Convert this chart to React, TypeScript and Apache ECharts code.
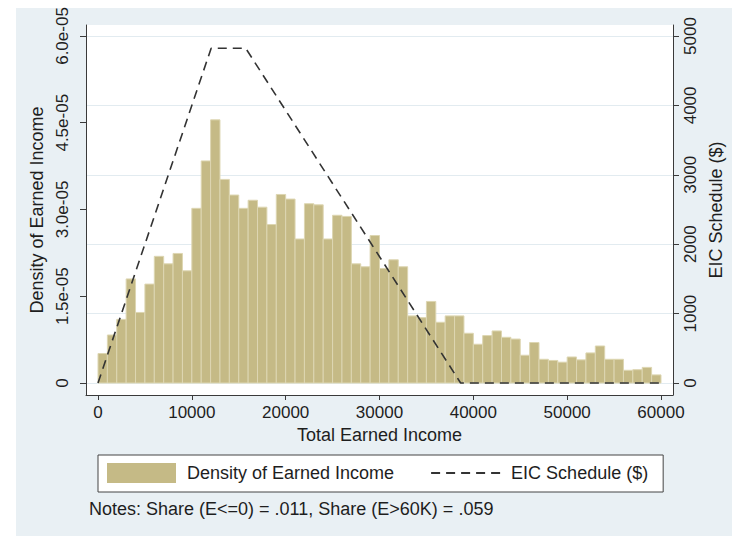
import { useEffect, useRef } from 'react';
import * as echarts from 'echarts';

// Histogram: bins of $1,000 from 0 to 60,000; density in units of 1e-5
const binWidth = 1000;
const densityE5 = [
  0.51, 0.83, 1.10, 1.80, 1.22, 1.71, 2.19, 2.06, 2.24, 1.94,
  3.02, 3.84, 4.55, 3.52, 3.25, 3.02, 3.16, 3.04, 2.74, 3.26,
  3.18, 2.49, 3.10, 3.08, 2.49, 2.90, 2.88, 2.06, 2.01, 2.55,
  1.98, 2.13, 2.01, 1.16, 1.13, 1.41, 1.05, 1.16, 1.16, 0.86,
  0.67, 0.82, 0.90, 0.79, 0.76, 0.48, 0.70, 0.41, 0.39, 0.36,
  0.45, 0.40, 0.52, 0.64, 0.41, 0.41, 0.22, 0.23, 0.27, 0.14,
];

// EIC schedule (kink points)
const eicIncome = [0, 12060, 15740, 38646, 60000];
const eicCredit = [0, 4824, 4824, 0, 0];

// Tick values / labels
const xTicks = [0, 10000, 20000, 30000, 40000, 50000, 60000];
const leftTicks = [0, 1.5, 3, 4.5, 6];
const leftTickLabels = ['0', '1.5e-05', '3.0e-05', '4.5e-05', '6.0e-05'];
const rightTicks = [0, 1000, 2000, 3000, 4000, 5000];

const seriesNames = ['Density of Earned Income', 'EIC Schedule ($)'];
const notesText = 'Notes: Share (E<=0) = .011, Share (E>60K) = .059';

const FONT = '"Liberation Sans", Arial, Helvetica, sans-serif';
const TXT = '#1e1e1e';
const AX = '#3a3a3a';
const BAR = '#c5ba86';
const BAR_EDGE = '#ddd6b2';

export default function App() {
  const ref = useRef<HTMLDivElement>(null);

  useEffect(() => {
    const chart = echarts.init(ref.current!, null, { renderer: 'svg' });
    const histData = densityE5.map((v, i) => [i * binWidth, (i + 1) * binWidth, v]);
    const lineData = eicIncome.map((x, i) => [x, eicCredit[i]]);

    const option: any = {
      animation: false,
      backgroundColor: 'transparent',
      textStyle: { fontFamily: FONT, color: TXT },
      grid: {
        left: 86,
        right: 59,
        top: 25,
        bottom: 141,
        show: true,
        backgroundColor: '#ffffff',
        borderWidth: 0,
        containLabel: false,
        outerBoundsMode: 'none',
      },
      legend: {
        left: 98,
        top: 455,
        orient: 'horizontal',
        backgroundColor: '#ffffff',
        borderColor: '#444',
        borderWidth: 1,
        padding: [8, 15, 9, 9],
        itemWidth: 69,
        itemHeight: 20,
        itemGap: 36,
        selectedMode: false,
        textStyle: { fontFamily: FONT, fontSize: 18, color: TXT, padding: [0, 0, 0, 6] },
        data: [
          { name: seriesNames[0], icon: 'rect' },
          { name: seriesNames[1] },
        ],
      },
      xAxis: {
        type: 'value',
        min: -1279,
        max: 61279,
        name: 'Total Earned Income',
        nameLocation: 'middle',
        nameGap: 29,
        nameTextStyle: { fontFamily: FONT, fontSize: 18, color: TXT },
        axisLine: { show: true, onZero: false, lineStyle: { color: AX, width: 1 } },
        axisTick: { show: true, customValues: xTicks, length: 5, lineStyle: { color: AX } },
        axisLabel: {
          customValues: xTicks,
          margin: 9,
          fontFamily: FONT,
          fontSize: 17,
          color: TXT,
          formatter: (v: number) => String(v),
        },
        splitLine: { show: false },
      },
      yAxis: [
        {
          type: 'value',
          position: 'left',
          min: -0.2075,
          max: 6.19,
          name: 'Density of Earned Income',
          nameLocation: 'middle',
          nameGap: 31,
          nameTextStyle: { fontFamily: FONT, fontSize: 18, color: TXT },
          axisLine: { show: true, onZero: false, lineStyle: { color: AX, width: 1 } },
          axisTick: { show: true, customValues: leftTicks, length: 6, lineStyle: { color: AX } },
          axisLabel: {
            customValues: leftTicks,
            rotate: 90,
            margin: 15,
            fontFamily: FONT,
            fontSize: 17,
            color: TXT,
            formatter: (v: number) => {
              const i = leftTicks.findIndex((t) => Math.abs(t - v) < 1e-6);
              return i >= 0 ? leftTickLabels[i] : '';
            },
          },
          splitLine: { show: false },
        },
        {
          type: 'value',
          position: 'right',
          min: -172.9,
          max: 5158.5,
          name: 'EIC Schedule ($)',
          nameLocation: 'middle',
          nameGap: 27,
          nameTextStyle: { fontFamily: FONT, fontSize: 18, color: TXT },
          axisLine: { show: true, onZero: false, lineStyle: { color: AX, width: 1 } },
          axisTick: { show: true, customValues: rightTicks, length: 6, lineStyle: { color: AX } },
          axisLabel: {
            customValues: rightTicks,
            rotate: 90,
            margin: 9,
            fontFamily: FONT,
            fontSize: 17,
            color: TXT,
            formatter: (v: number) => String(v),
          },
          splitLine: { show: true, lineStyle: { color: '#e2ebf0', width: 1 } },
        },
      ],
      series: [
        {
          name: seriesNames[0],
          type: 'custom',
          xAxisIndex: 0,
          yAxisIndex: 0,
          z: 2,
          itemStyle: { color: BAR },
          encode: { x: [0, 1], y: 2 },
          data: histData,
          renderItem: (_params: any, api: any) => {
            const p0 = api.coord([api.value(0), api.value(2)]);
            const p1 = api.coord([api.value(1), 0]);
            return {
              type: 'rect',
              shape: { x: p0[0], y: p0[1], width: p1[0] - p0[0], height: p1[1] - p0[1] },
              style: { fill: BAR, stroke: BAR_EDGE, lineWidth: 1 },
            };
          },
        },
        {
          name: seriesNames[1],
          type: 'line',
          xAxisIndex: 0,
          yAxisIndex: 1,
          z: 3,
          symbol: 'none',
          showSymbol: false,
          itemStyle: { color: 'rgba(0,0,0,0)', borderColor: 'rgba(0,0,0,0)', borderWidth: 0 },
          lineStyle: { color: '#333', width: 1.6, type: [9, 6] },
          data: lineData,
        },
      ],
      graphic: [
        {
          type: 'text',
          left: 89,
          top: 500,
          style: { text: notesText, font: `18px ${FONT}`, fill: TXT },
        },
      ],
    };

    chart.setOption(option);
    return () => chart.dispose();
  }, []);

  return (
    <div style={{ position: 'absolute', left: 0, top: 0, width: 732, height: 536, background: '#ffffff' }}>
      <div style={{ position: 'absolute', left: 16, top: 8, right: 0, bottom: 0, background: '#e9f0f4' }} />
      <div ref={ref} style={{ position: 'absolute', left: 0, top: 0, width: 732, height: 536 }} />
    </div>
  );
}
